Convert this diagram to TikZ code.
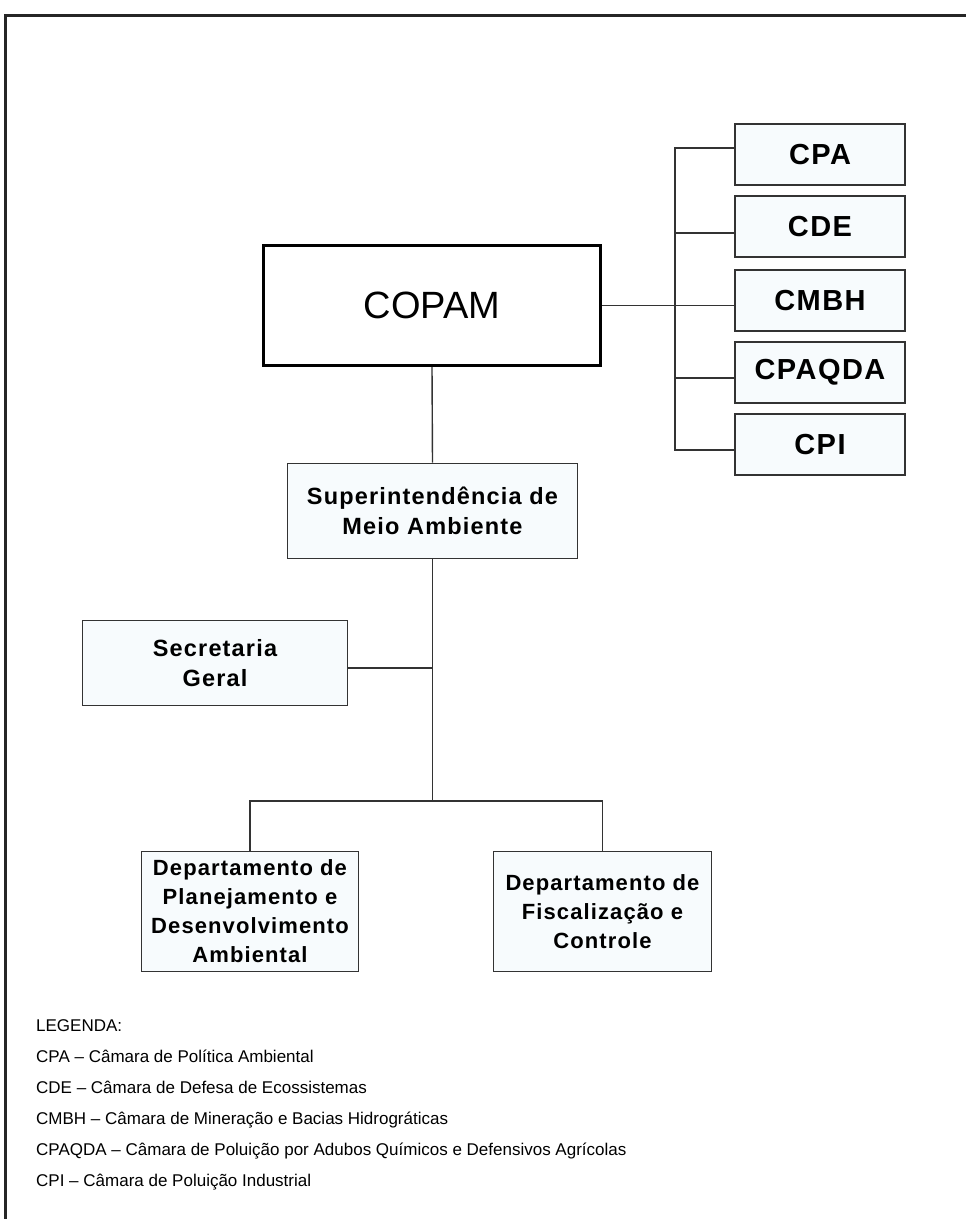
\documentclass[tikz,border=0pt]{standalone}
\usepackage{fontspec}
\setmainfont{Liberation Sans}
\newfontfamily\boxfont[LetterSpace=5]{Liberation Sans}
\begin{document}
\begin{tikzpicture}[x=1pt,y=-1pt,
  orgbox/.style={draw=black!80, line width=1.6pt, fill=boxfill, align=center, inner sep=0pt,
     font=\boxfont\bfseries\fontsize{22}{29}\selectfont},
  bigtext/.style={font=\boxfont\bfseries\fontsize{23.5}{30}\selectfont},
  combox/.style={orgbox, minimum width=170pt, minimum height=61pt, font=\boxfont\bfseries\fontsize{29}{32}\selectfont},
  link/.style={draw=black!80, line width=1.4pt},
  legend/.style={anchor=base west, inner sep=0pt, font=\fontsize{17}{20}\selectfont}
]
\definecolor{boxfill}{HTML}{F7FBFD}
\useasboundingbox (0,0) rectangle (966,1219);
% outer frame (top and left edges visible)
\draw[line width=3pt, black!85] (966,15.5) -- (5.5,15.5) -- (5.5,1219);

% COPAM
\node[draw=black, line width=3pt, fill=white, minimum width=337pt, minimum height=120pt,
      inner sep=0pt, font=\fontsize{38}{40}\selectfont] (copam) at (432,305.5) {COPAM};

% chambers
\node[combox] (cpa) at (820,154.5) {CPA};
\node[combox] (cde) at (820,226.5) {CDE};
\node[combox] (cmbh) at (820,300.5) {CMBH};
\node[combox] (cpaqda) at (820,372.5) {CPAQDA};
\node[combox] (cpi) at (820,444.5) {CPI};

% other units
\node[orgbox, bigtext, minimum width=290pt, minimum height=95pt] (sup) at (432.5,511) {Superintendência de\\Meio Ambiente};
\node[orgbox, bigtext, minimum width=265pt, minimum height=85pt] (sec) at (215,663) {Secretaria\\Geral};
\node[orgbox, minimum width=217pt, minimum height=120pt] (dpd) at (250,911.5) {Departamento de\\Planejamento e\\Desenvolvimento\\Ambiental};
\node[orgbox, minimum width=218pt, minimum height=120pt] (dfc) at (602.5,911.5) {Departamento de\\Fiscalização e\\Controle};

% connectors to chambers
\coordinate (busbot) at (675,450);
\draw[link] (copam.east) -- (copam.east -| cmbh.west);
\draw[link] ([yshift=6.5pt]cpa.west) -| (busbot) -- ([yshift=-5.5pt]cpi.west);
\draw[link] ([yshift=-6.5pt]cde.west) -- ++(-60,0);
\draw[link] ([yshift=-5.5pt]cpaqda.west) -- ++(-60,0);

% vertical chain
\coordinate (j1) at (432.5,801);
\coordinate (secj) at ([yshift=-5pt]sec.east);
\draw[link] (copam.south) -- (sup.north);
\draw[link] (sup.south) -- (j1);
\draw[link] (secj) -- (sup.south |- secj);
\draw[link] (dpd.north) |- (j1) -| (dfc.north);

% legend
\node[legend] (lg0) at (36,1031) {LEGENDA:};
\node[legend] (lg1) at (36,1062) {CPA – Câmara de Política Ambiental};
\node[legend] (lg2) at (36,1093) {CDE – Câmara de Defesa de Ecossistemas};
\node[legend] (lg3) at (36,1124) {CMBH – Câmara de Mineração e Bacias Hidrográticas};
\node[legend] (lg4) at (36,1155) {CPAQDA – Câmara de Poluição por Adubos Químicos e Defensivos Agrícolas};
\node[legend] (lg5) at (36,1186) {CPI – Câmara de Poluição Industrial};
\end{tikzpicture}
\end{document}
